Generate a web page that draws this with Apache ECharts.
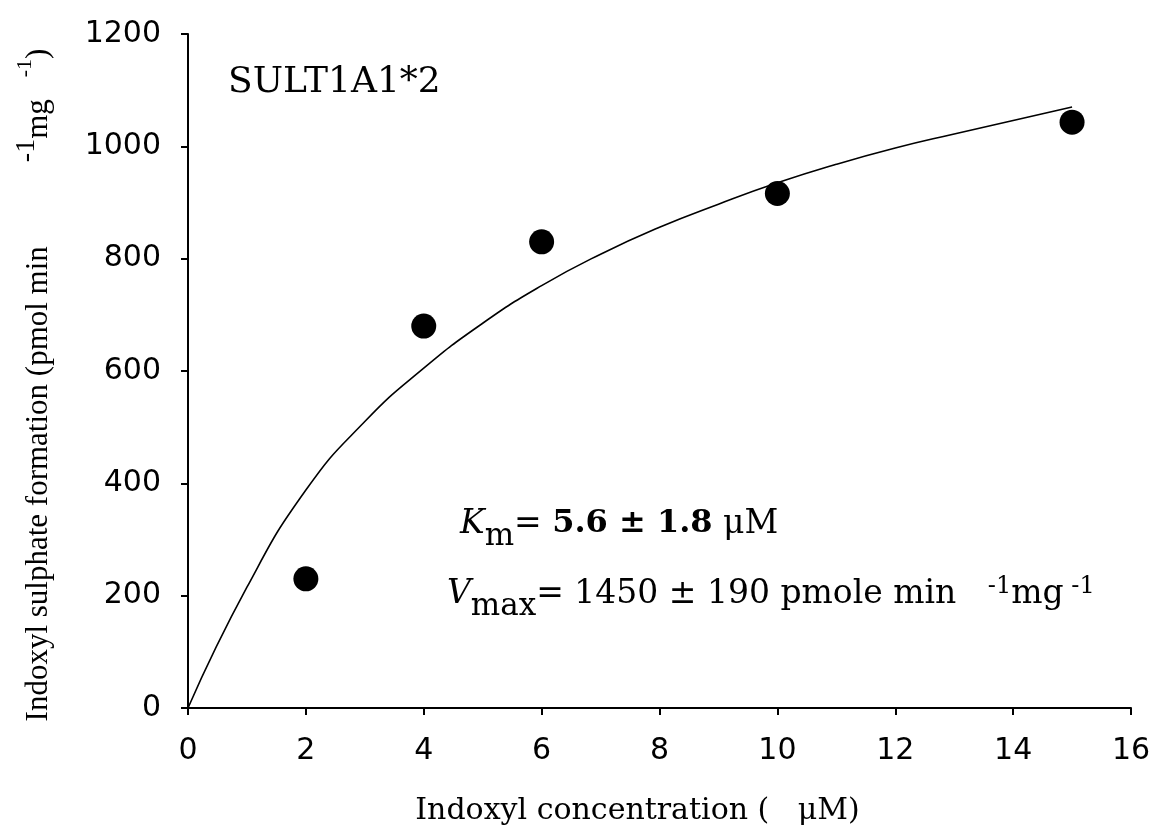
<!DOCTYPE html>
<html>
<head>
<meta charset="utf-8">
<script src="https://cdn.jsdelivr.net/npm/echarts@6/dist/echarts.min.js"></script>
<style>
  html, body { margin: 0; padding: 0; background: #fff; }
  #chart { width: 1155px; height: 834px; }
</style>
</head>
<body>
<div id="chart"></div>
<script>
// measured points
const concX = [2, 4, 6, 10, 15];
const rateY = [230, 680, 830, 916, 1043];

// fitted curve
const fitX = [0, 1, 2, 3, 4, 5, 6, 7, 8, 9, 10, 11, 12, 13, 14, 15];
const fitY = [0, 215, 388, 510, 605, 685, 752, 808, 856, 897, 935, 968, 997, 1022, 1046, 1070];

const xTicks = { min: 0, max: 16, step: 2 };
const yTicks = { min: 0, max: 1200, step: 200 };

const serif = 'DejaVu Serif';
const sans = 'DejaVu Sans';

// rich text pieces for the Km / Vmax notes
const richBits = {
  t: { fontFamily: serif, fontSize: 33, lineHeight: 35, padding: [10, 0, 0, 0], verticalAlign: 'top', color: '#000' },
  bd: { fontFamily: serif, fontSize: 32, fontWeight: 'bold', lineHeight: 35, padding: [10, 0, 0, 0], verticalAlign: 'top', color: '#000' },
  i: { fontFamily: serif, fontSize: 33, fontStyle: 'italic', lineHeight: 35, padding: [10, 0, 0, 0], verticalAlign: 'top', color: '#000' },
  sup: { fontFamily: serif, fontSize: 24, lineHeight: 25, padding: [7, 0, 0, 0], verticalAlign: 'top', color: '#000' },
  sub: { fontFamily: serif, fontSize: 31, lineHeight: 33, padding: [23, 0, 0, 0], verticalAlign: 'top', color: '#000' }
};

const chart = echarts.init(document.getElementById('chart'));

const option = {
  backgroundColor: '#fff',
  animation: false,
  grid: { left: 188, right: 24, top: 34, bottom: 126 },
  xAxis: {
    type: 'value',
    min: xTicks.min,
    max: xTicks.max,
    interval: xTicks.step,
    name: 'Indoxyl concentration (   μM)',
    nameLocation: 'middle',
    nameGap: 88,
    nameTextStyle: { fontFamily: serif, fontSize: 30, color: '#000', padding: [0, 44, 0, 0] },
    axisLine: { lineStyle: { color: '#000', width: 2 } },
    axisTick: { length: 7, lineStyle: { color: '#000', width: 2 } },
    axisLabel: { fontFamily: sans, fontSize: 30, color: '#000', margin: 28, formatter: v => String(v) },
    splitLine: { show: false }
  },
  yAxis: {
    type: 'value',
    min: yTicks.min,
    max: yTicks.max,
    interval: yTicks.step,
    name: '{t|Indoxyl sulphate formation (pmol min}{supa|-1}{t|mg}{supb|-1}{t|)}',
    nameLocation: 'middle',
    nameGap: 144,
    nameTextStyle: {
      padding: [0, 28, 0, 0],
      rich: {
        t: { fontFamily: 'Liberation Serif', fontSize: 31, lineHeight: 33, padding: [12, 0, 0, 0], verticalAlign: 'top', color: '#000' },
        supa: { fontFamily: 'Liberation Serif', fontSize: 28, lineHeight: 30, padding: [2, 0, 0, 84], verticalAlign: 'top', color: '#000' },
        supb: { fontFamily: 'Liberation Serif', fontSize: 22, lineHeight: 24, padding: [3, 0, 0, 22], verticalAlign: 'top', color: '#000' }
      }
    },
    axisLine: { show: true, lineStyle: { color: '#000', width: 2 } },
    axisTick: { show: true, length: 7, lineStyle: { color: '#000', width: 2 } },
    axisLabel: { fontFamily: sans, fontSize: 30, color: '#000', margin: 27, formatter: v => String(v) },
    splitLine: { show: false }
  },
  graphic: [
    {
      type: 'text',
      left: 228,
      top: 65,
      style: { text: 'SULT1A1*2', font: '36px "DejaVu Serif"', fill: '#000' }
    },
    {
      type: 'text',
      left: 460,
      top: 498,
      style: {
        text: '{i|K}{sub|m}{t|= }{bd|5.6 ± 1.8}{t| μM}',
        rich: richBits
      }
    },
    {
      type: 'text',
      left: 447,
      top: 568,
      style: {
        text: '{i|V}{sub|max}{t|= 1450 ± 190 pmole min   }{sup|-1}{t|mg}{sup| -1}',
        rich: richBits
      }
    }
  ],
  series: [
    {
      name: 'fit',
      type: 'line',
      data: fitX.map((x, k) => [x, fitY[k]]),
      smooth: true,
      showSymbol: false,
      lineStyle: { color: '#000', width: 1.6 },
      z: 2
    },
    {
      name: 'measured',
      type: 'scatter',
      data: concX.map((x, k) => [x, rateY[k]]),
      symbol: 'circle',
      symbolSize: 25,
      itemStyle: { color: '#000', opacity: 1 },
      z: 3
    }
  ]
};

chart.setOption(option);
</script>
</body>
</html>
